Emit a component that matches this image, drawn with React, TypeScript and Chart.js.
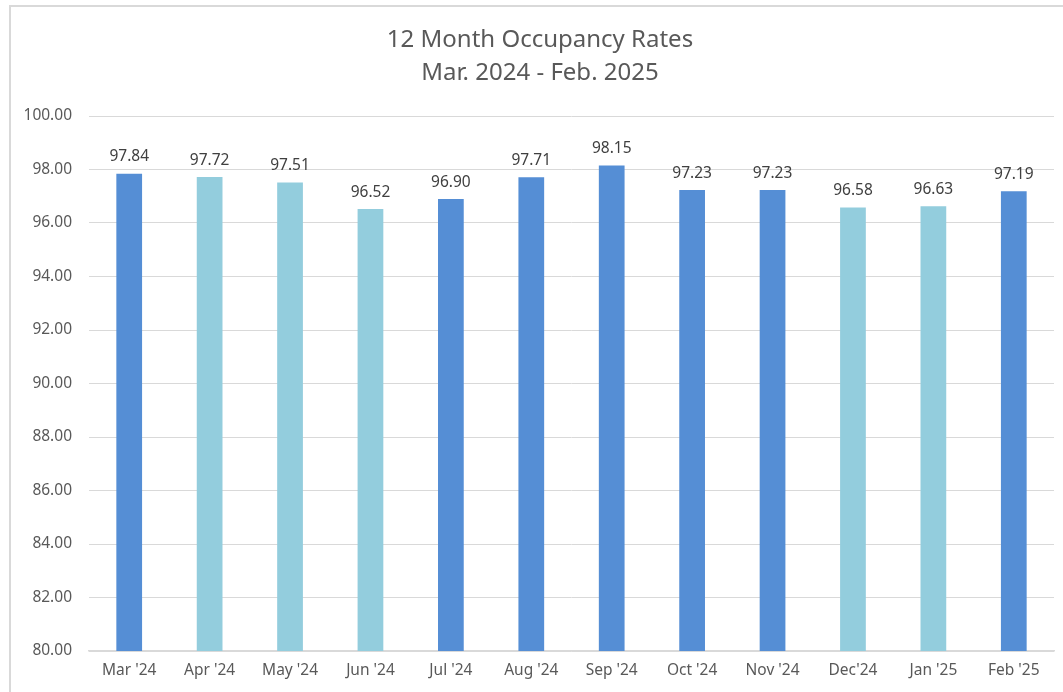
import React, { useEffect, useRef } from "react";
import { Chart, registerables } from "chart.js";

Chart.register(...registerables);

const categories = ["Mar '24", "Apr '24", "May '24", "Jun '24", "Jul '24", "Aug '24", "Sep '24", "Oct '24", "Nov '24", "Dec'24", "Jan '25", "Feb '25"];
const occupancy = [97.84, 97.72, 97.51, 96.52, 96.9, 97.71, 98.15, 97.23, 97.23, 96.58, 96.63, 97.19];
const barColors = ["#558ED5", "#93CDDD", "#93CDDD", "#93CDDD", "#558ED5", "#558ED5", "#558ED5", "#558ED5", "#558ED5", "#93CDDD", "#93CDDD", "#558ED5"];
const titleLines = ["12 Month Occupancy Rates", "Mar. 2024 - Feb. 2025"];
const yMin = 80;
const yMax = 100;
const yStep = 2;

const FONT = "'Noto Sans', 'DejaVu Sans', sans-serif";
const TEXT = "#595959";

const titlePlugin = {
  id: "customTitle",
  afterDraw(chart: any) {
    const ctx = chart.ctx;
    ctx.save();
    ctx.fillStyle = TEXT;
    ctx.font = `24px ${FONT}`;
    ctx.textAlign = "center";
    ctx.textBaseline = "middle";
    const cx = 540;
    ctx.fillText(titleLines[0], cx, 40);
    ctx.fillText(titleLines[1], cx, 73);
    ctx.restore();
  },
};

const labelPlugin = {
  id: "valueLabels",
  afterDatasetsDraw(chart: any) {
    const ctx = chart.ctx;
    const meta = chart.getDatasetMeta(0);
    ctx.save();
    ctx.fillStyle = "#404040";
    ctx.font = `15.5px ${FONT}`;
    ctx.textAlign = "center";
    ctx.textBaseline = "bottom";
    meta.data.forEach((bar: any, i: number) => {
      ctx.fillText(occupancy[i].toFixed(2), bar.x, bar.y - 9);
    });
    ctx.restore();
  },
};

export default function App() {
  const ref = useRef<HTMLCanvasElement>(null);
  useEffect(() => {
    if (!ref.current) return;
    const chart = new Chart(ref.current, {
      type: "bar",
      data: {
        labels: categories,
        datasets: [
          {
            data: occupancy,
            backgroundColor: barColors,
            barPercentage: 0.64,
            categoryPercentage: 0.5,
          },
        ],
      },
      options: {
        animation: false,
        responsive: false,
        maintainAspectRatio: false,
        layout: { padding: { top: 116, left: 0, right: 9, bottom: 0 } },
        plugins: { legend: { display: false }, title: { display: false }, tooltip: { enabled: false } },
        scales: {
          x: {
            grid: { display: false, drawTicks: false },
            border: { color: "#D9D9D9", width: 1.5 },
            ticks: { color: TEXT, font: { family: FONT, size: 15.5 }, padding: 10, maxRotation: 0, autoSkip: false },
            afterFit(scale: any) {
              scale.height = 41;
            },
          },
          y: {
            min: yMin,
            max: yMax,
            grid: { color: "#D9D9D9", lineWidth: 1, drawTicks: false },
            border: { display: false },
            ticks: {
              stepSize: yStep,
              color: TEXT,
              font: { family: FONT, size: 15.5 },
              padding: 17,
              callback: (v: any) => Number(v).toFixed(2),
            },
            afterFit(scale: any) {
              scale.width = 89;
            },
          },
        },
      },
      plugins: [titlePlugin, labelPlugin],
    });
    return () => chart.destroy();
  }, []);
  return (
    <div style={{ position: "fixed", left: 0, top: 0, width: 1063, height: 692, background: "#fff", overflow: "hidden" }}>
      <canvas ref={ref} width={1063} height={692} style={{ position: "absolute", left: 0, top: 0, width: 1063, height: 692 }} />
      <div style={{ position: "absolute", left: 9, top: 5, width: 1070, height: 710, border: "2px solid #D9D9D9", boxSizing: "border-box", pointerEvents: "none" }} />
    </div>
  );
}
